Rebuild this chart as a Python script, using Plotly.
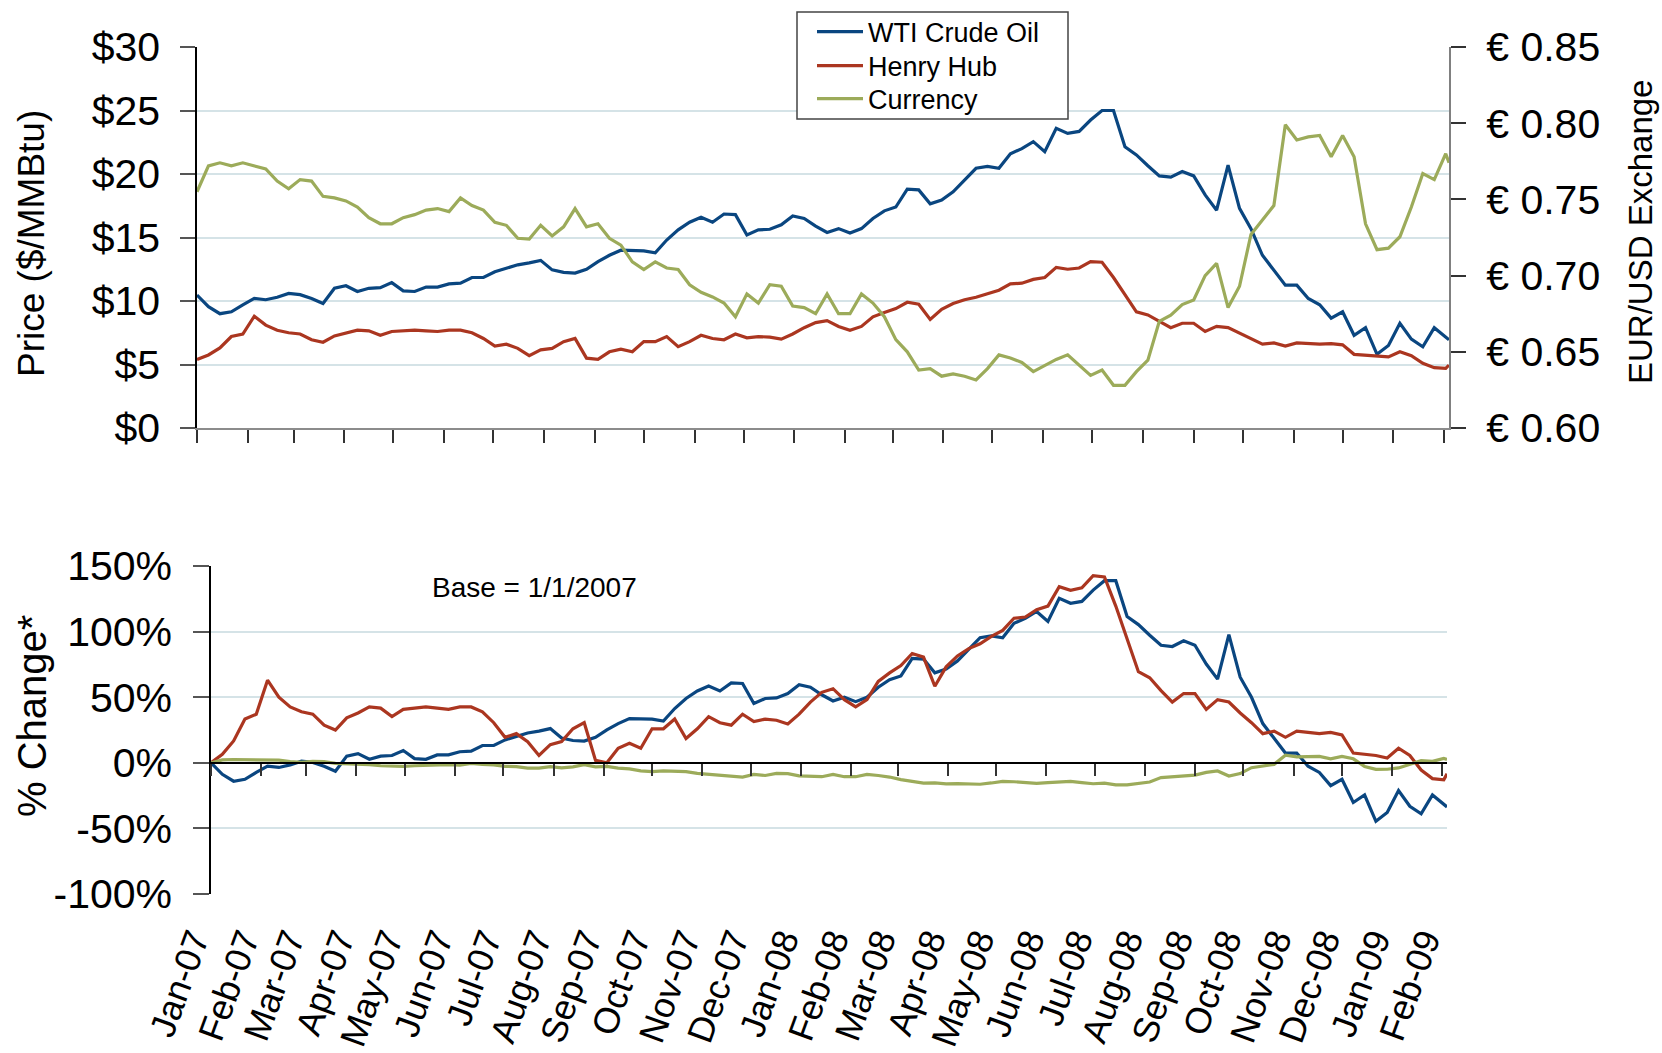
import pandas as pd
import plotly.graph_objects as go

# ---------------- data (weekly readings, $/MMBtu and USD->EUR) ----------------
dates = list(pd.date_range("2007-01-01", periods=110, freq="7D").strftime("%Y-%m-%d")) + ["2009-02-04"]

wti = [10.47, 9.55, 9.0, 9.15, 9.7, 10.2, 10.1, 10.3, 10.6, 10.5,
       10.2, 9.8, 11.0, 11.2, 10.75, 11.0, 11.05, 11.45, 10.8, 10.75,
       11.1, 11.1, 11.35, 11.4, 11.85, 11.85, 12.3, 12.55, 12.85, 13.0,
       13.2, 12.45, 12.25, 12.2, 12.5, 13.1, 13.6, 14.0, 13.95, 13.95,
       13.8, 14.8, 15.6, 16.2, 16.6, 16.2, 16.85, 16.8, 15.2, 15.6,
       15.65, 16.0, 16.7, 16.5, 15.9, 15.4, 15.7, 15.35, 15.7, 16.5,
       17.1, 17.4, 18.8, 18.75, 17.65, 17.95, 18.6, 19.5, 20.45, 20.6,
       20.45, 21.6, 22.0, 22.55, 21.75, 23.6, 23.2, 23.35, 24.25, 25.0,
       25.0, 22.15, 21.5, 20.65, 19.85, 19.75, 20.2, 19.85, 18.35, 17.15,
       20.7, 17.3, 15.7, 13.6, 12.45, 11.25, 11.25, 10.2, 9.7, 8.65,
       9.15, 7.3, 7.9, 5.8, 6.5, 8.25, 7.0, 6.4, 7.9, 7.15,
       6.95]

henry_hub = [5.4, 5.75, 6.3, 7.2, 7.4, 8.8, 8.1, 7.7, 7.5, 7.4,
             6.95, 6.75, 7.25, 7.45, 7.7, 7.65, 7.3, 7.6, 7.65, 7.7,
             7.65, 7.6, 7.7, 7.7, 7.5, 7.05, 6.45, 6.6, 6.27, 5.7,
             6.15, 6.27, 6.8, 7.05, 5.5, 5.4, 6.0, 6.2, 6.0, 6.8,
             6.8, 7.2, 6.4, 6.8, 7.3, 7.05, 6.95, 7.4, 7.1, 7.2,
             7.15, 7.0, 7.4, 7.9, 8.3, 8.45, 8.0, 7.7, 8.0, 8.75,
             9.1, 9.4, 9.9, 9.75, 8.55, 9.35, 9.8, 10.1, 10.3, 10.6,
             10.85, 11.35, 11.4, 11.7, 11.85, 12.65, 12.5, 12.6, 13.1, 13.05,
             11.85, 10.5, 9.15, 8.9, 8.37, 7.9, 8.25, 8.25, 7.6, 8.0,
             7.9, 7.45, 7.05, 6.6, 6.7, 6.45, 6.7, 6.65, 6.6, 6.65,
             6.55, 5.8, 5.75, 5.7, 5.6, 6.0, 5.7, 5.1, 4.75, 4.7,
             4.95]

currency = [0.755, 0.772, 0.774, 0.772, 0.774, 0.772, 0.770, 0.762, 0.757, 0.763,
            0.762, 0.752, 0.751, 0.749, 0.745, 0.738, 0.734, 0.734, 0.738, 0.740,
            0.743, 0.744, 0.742, 0.751, 0.746, 0.743, 0.735, 0.733, 0.7245, 0.724,
            0.733, 0.726, 0.732, 0.744, 0.732, 0.734, 0.7245, 0.720, 0.709, 0.704,
            0.709, 0.705, 0.704, 0.694, 0.689, 0.686, 0.682, 0.673, 0.688, 0.682,
            0.694, 0.693, 0.680, 0.679, 0.675, 0.688, 0.675, 0.675, 0.688, 0.682,
            0.673, 0.658, 0.650, 0.638, 0.639, 0.634, 0.6355, 0.634, 0.6315, 0.639,
            0.648, 0.646, 0.643, 0.637, 0.641, 0.645, 0.648, 0.641, 0.6345, 0.638,
            0.628, 0.628, 0.637, 0.6445, 0.670, 0.674, 0.681, 0.684, 0.700, 0.708,
            0.679, 0.693, 0.727, 0.7365, 0.746, 0.799, 0.789, 0.791, 0.792, 0.778,
            0.792, 0.778, 0.734, 0.717, 0.718, 0.7255, 0.745, 0.767, 0.763, 0.780,
            0.774]

pct_tickvals = [-1.0, -0.5, 0.0, 0.5, 1.0, 1.5]
pct_ticktext = ["-100%", "-50%", "0%", "50%", "100%", "150%"]


def pct_change(vals):
    base = vals[0]
    return [v / base - 1 for v in vals]


# ---------------- styling ----------------
FONT = "Liberation Sans, Arial, sans-serif"
BLUE, RED, GREEN = "#0a4680", "#ab3620", "#9cab5a"
GRID = "#d5e3e7"
W, H = 1662, 1053
LW = 3.2
LABEL_SHIFT = 18  # px, horizontal offset of the rotated month labels


def px(x):
    return x / W


def py(y):
    return 1 - y / H


XR = ["2007-01-01", "2009-02-04"]

fig = go.Figure()
fig.add_trace(go.Scatter(x=dates, y=wti, name="WTI Crude Oil", mode="lines",
                         line=dict(color=BLUE, width=LW), xaxis="x", yaxis="y",
                         legend="legend"))
fig.add_trace(go.Scatter(x=dates, y=henry_hub, name="Henry Hub", mode="lines",
                         line=dict(color=RED, width=LW), xaxis="x", yaxis="y",
                         legend="legend2"))
fig.add_trace(go.Scatter(x=dates, y=currency, name="Currency", mode="lines",
                         line=dict(color=GREEN, width=LW), xaxis="x", yaxis="y2",
                         legend="legend3"))

fig.add_trace(go.Scatter(x=dates, y=pct_change(wti), mode="lines", showlegend=False,
                         line=dict(color=BLUE, width=LW), xaxis="x2", yaxis="y3"))
fig.add_trace(go.Scatter(x=dates, y=pct_change(henry_hub), mode="lines", showlegend=False,
                         line=dict(color=RED, width=LW), xaxis="x2", yaxis="y3"))
fig.add_trace(go.Scatter(x=dates, y=pct_change(currency), mode="lines", showlegend=False,
                         line=dict(color=GREEN, width=LW), xaxis="x2", yaxis="y3"))
# carrier (fully transparent) so the month-label axis x5/y5 is laid out
fig.add_trace(go.Scatter(x=dates, y=pct_change(currency), mode="lines", showlegend=False,
                         opacity=0, hoverinfo="skip", line=dict(color=GREEN, width=1),
                         xaxis="x5", yaxis="y5"))

tickfont = dict(family=FONT, size=41, color="black")
legfont = dict(family=FONT, size=27, color="black")


def leg(ycenter):
    return dict(x=px(812), y=py(ycenter), xanchor="left", yanchor="middle",
                bgcolor="rgba(0,0,0,0)", borderwidth=0, font=legfont,
                itemwidth=46, tracegroupgap=0)


fig.update_layout(
    template="none",
    width=W, height=H, autosize=False,
    margin=dict(l=0, r=0, t=0, b=0, pad=0),
    paper_bgcolor="white", plot_bgcolor="rgba(0,0,0,0)",
    font=dict(family=FONT, color="black"),
    # ---- top panel ----
    xaxis=dict(domain=[px(197), px(1449)], anchor="y", type="date", range=XR,
               tick0="2007-01-01", dtick="M1", ticks="outside", ticklen=13,
               tickwidth=1.5, tickcolor="#333333", showticklabels=False,
               showline=True, linecolor="#8c8c8c", linewidth=1.5,
               showgrid=False, zeroline=False, automargin=False),
    yaxis=dict(domain=[py(428), py(47)], anchor="x", range=[0, 30], dtick=5,
               tickprefix="$", ticks="outside", ticklen=15, tickwidth=1.5,
               tickcolor="#555555", showline=True, linecolor="black", linewidth=1.5,
               showgrid=True, gridcolor=GRID, gridwidth=1.5, zeroline=False,
               tickfont=tickfont, ticklabelstandoff=12, automargin=False),
    yaxis2=dict(overlaying="y", side="right", anchor="x", range=[0.60, 0.85],
                dtick=0.05, tick0=0.6, tickformat=".2f", tickprefix="€ ",
                ticks="outside", ticklen=15, tickwidth=1.5, tickcolor="#333333",
                showline=True, linecolor="#808080", linewidth=2,
                showgrid=False, zeroline=False, tickfont=tickfont,
                ticklabelstandoff=12, automargin=False),
    yaxis4=dict(overlaying="y", side="right", anchor="x", range=[0.60, 0.85],
                dtick=0.05, tick0=0.6, ticks="inside", ticklen=16, tickwidth=1.5,
                tickcolor="#333333", showticklabels=False, showline=False,
                showgrid=False, zeroline=False, automargin=False),
    # ---- bottom panel: x2 is the 0% line with its tick marks ----
    xaxis2=dict(domain=[px(211), px(1447)], anchor="free", position=py(763),
                type="date", range=XR, tick0="2007-01-01", dtick="M1",
                ticks="outside", ticklen=12, tickwidth=1.5, tickcolor="#333333",
                showticklabels=False, showline=True, linecolor="black",
                linewidth=1.5, showgrid=False, zeroline=False, automargin=False),
    yaxis3=dict(domain=[py(894), py(566)], anchor="x2", range=[-1.0, 1.5],
                tickvals=pct_tickvals, ticktext=pct_ticktext, ticks="outside",
                ticklen=16, tickwidth=1.5, tickcolor="#555555",
                showline=True, linecolor="black", linewidth=1.5,
                showgrid=True, gridcolor=GRID, gridwidth=1.5, zeroline=False,
                tickfont=tickfont, ticklabelstandoff=13, automargin=False),
    # ---- month labels under the bottom panel ----
    xaxis5=dict(domain=[px(211 - LABEL_SHIFT), px(1447 - LABEL_SHIFT)], anchor="y5",
                type="date", range=XR, tick0="2007-01-01", dtick="M1",
                tickformat="%b-%y", tickangle=-70, ticks="", showline=False,
                showgrid=False, zeroline=False,
                tickfont=dict(family=FONT, size=36, color="black"),
                ticklabelstandoff=17, automargin=False),
    yaxis5=dict(domain=[py(894), py(566)], anchor="x5", range=[-1.0, 1.5],
                visible=False, automargin=False),
    legend=leg(32),
    legend2=leg(66),
    legend3=leg(99),
    shapes=[
        dict(type="rect", xref="paper", yref="paper",
             x0=px(797), x1=px(1068), y0=py(119), y1=py(12),
             fillcolor="white", line=dict(color="#444444", width=1.5),
             layer="above"),
    ],
    annotations=[
        dict(text="Price ($/MMBtu)", x=px(32), y=py(244), xref="paper", yref="paper",
             textangle=-90, showarrow=False, xanchor="center", yanchor="middle",
             font=dict(family=FONT, size=37, color="black")),
        dict(text="EUR/USD Exchange", x=px(1640), y=py(232), xref="paper", yref="paper",
             textangle=-90, showarrow=False, xanchor="center", yanchor="middle",
             font=dict(family=FONT, size=33, color="black")),
        dict(text="% Change*", x=px(32), y=py(716), xref="paper", yref="paper",
             textangle=-90, showarrow=False, xanchor="center", yanchor="middle",
             font=dict(family=FONT, size=40, color="black")),
        dict(text="Base = 1/1/2007", x=px(430), y=py(587), xref="paper", yref="paper",
             showarrow=False, xanchor="left", yanchor="middle",
             font=dict(family=FONT, size=28, color="black")),
    ],
)

fig.write_html("out.html", config={"displayModeBar": False},
               post_script="document.body.style.margin='0px';")
